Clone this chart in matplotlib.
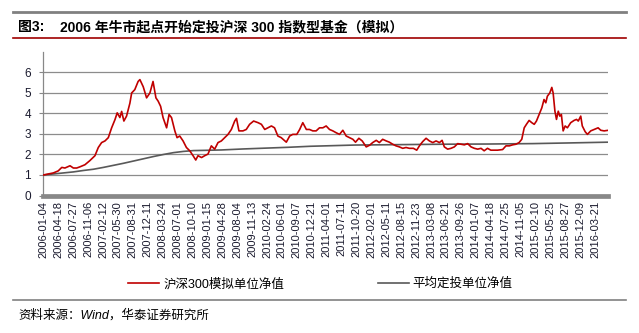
import matplotlib
matplotlib.use('Agg')
import matplotlib.pyplot as plt
from matplotlib.lines import Line2D

plt.rcParams['font.family'] = ['Liberation Sans', 'Noto Sans CJK SC']

# trading-day index (0 = 2006-01-04) and values
hs300_day = [0, 22, 45, 67, 83, 97, 120, 135, 150, 165, 187, 209, 232, 247, 262, 277, 292,
             307, 322, 332, 344, 352, 362, 374, 389, 397, 411, 426, 434, 449, 464, 479, 493,
             506, 516, 527, 538, 554, 565, 576, 591, 601, 613, 628, 643, 658, 673, 685, 695,
             711, 725, 740, 755, 770, 785, 800, 815, 830, 845, 860, 868, 879, 897, 912, 927,
             945, 965, 980, 995, 1009, 1025, 1039, 1054, 1069, 1092, 1107, 1121, 1139, 1152,
             1166, 1182, 1196, 1211, 1226, 1241, 1256, 1271, 1286, 1301, 1316, 1331, 1346,
             1361, 1376, 1391, 1403, 1418, 1433, 1451, 1466, 1480, 1496, 1510, 1525, 1541,
             1555, 1570, 1585, 1600, 1615, 1630, 1645, 1663, 1678, 1690, 1705, 1720, 1735,
             1750, 1765, 1780, 1792, 1802, 1817, 1832, 1847, 1862, 1877, 1892, 1907, 1922,
             1937, 1952, 1967, 1981, 1996, 2011, 2026, 2041, 2064, 2079, 2094, 2109, 2124,
             2138, 2150, 2161, 2171, 2183, 2195, 2206, 2216, 2228, 2240, 2250, 2258, 2265,
             2276, 2285, 2291, 2299, 2306, 2314, 2321, 2328, 2336, 2345, 2355, 2370, 2385,
             2396, 2404, 2415, 2422, 2435, 2445, 2460, 2475, 2493, 2505, 2520, 2539]
hs300_nav = [1.0, 1.05, 1.1, 1.2, 1.37, 1.34, 1.45, 1.34, 1.34, 1.4, 1.5, 1.7, 1.94, 2.34,
             2.58, 2.66, 2.82, 3.3, 3.7, 4.03, 3.8, 4.1, 3.63, 3.87, 4.5, 5.0, 5.16, 5.56,
             5.65, 5.3, 4.76, 5.0, 5.56, 4.76, 4.6, 4.35, 3.8, 3.3, 3.95, 3.8, 3.15, 2.82,
             2.9, 2.66, 2.34, 2.18, 1.94, 1.73, 1.94, 1.85, 1.94, 2.02, 2.42, 2.26, 2.58,
             2.66, 2.82, 2.98, 3.22, 3.63, 3.76, 3.15, 3.15, 3.22, 3.47, 3.63, 3.55, 3.47,
             3.22, 3.3, 3.39, 3.3, 2.9, 2.82, 2.6, 2.9, 2.98, 2.98, 3.22, 3.55, 3.22, 3.22,
             3.15, 3.15, 3.3, 3.3, 3.39, 3.22, 3.15, 3.06, 2.98, 3.18, 2.9, 2.82, 2.74, 2.6,
             2.79, 2.66, 2.37, 2.45, 2.58, 2.69, 2.58, 2.74, 2.66, 2.6, 2.5, 2.42, 2.37, 2.3,
             2.34, 2.3, 2.3, 2.21, 2.42, 2.63, 2.79, 2.66, 2.58, 2.66, 2.58, 2.69, 2.37, 2.26,
             2.3, 2.37, 2.53, 2.5, 2.47, 2.53, 2.37, 2.3, 2.26, 2.3, 2.18, 2.3, 2.21, 2.21,
             2.21, 2.24, 2.42, 2.42, 2.47, 2.5, 2.58, 2.74, 3.3, 3.47, 3.66, 3.55, 3.47, 3.63,
             3.95, 4.27, 4.68, 4.52, 4.84, 5.0, 5.27, 5.0, 4.11, 3.71, 4.11, 3.87, 3.95, 3.15,
             3.39, 3.3, 3.55, 3.66, 3.71, 3.63, 3.87, 3.39, 3.11, 2.98, 3.15, 3.22, 3.3, 3.18,
             3.15, 3.18]

dca_day = [0, 45, 90, 135, 180, 225, 270, 315, 360, 405, 450, 495, 540, 585, 630, 675, 720,
           800, 900, 1000, 1100, 1200, 1300, 1400, 1500, 1600, 1800, 2000, 2200, 2350, 2539]
dca_nav = [1.0, 1.05, 1.1, 1.15, 1.22, 1.28, 1.37, 1.47, 1.57, 1.68, 1.79, 1.9, 2.0, 2.09,
           2.15, 2.19, 2.2, 2.22, 2.27, 2.31, 2.35, 2.4, 2.43, 2.46, 2.47, 2.48, 2.5, 2.51,
           2.53, 2.56, 2.6]

tick_labels = ['2006-01-04', '2006-04-18', '2006-07-27', '2006-11-06', '2007-02-12',
               '2007-05-30', '2007-08-31', '2007-12-11', '2008-03-24', '2008-07-01',
               '2008-10-10', '2009-01-15', '2009-04-28', '2009-08-04', '2009-11-13',
               '2010-02-24', '2010-06-01', '2010-09-07', '2010-12-21', '2011-04-01',
               '2011-07-11', '2011-10-20', '2012-02-01', '2012-05-11', '2012-08-15',
               '2012-11-23', '2013-03-08', '2013-06-21', '2013-09-26', '2014-01-07',
               '2014-04-18', '2014-07-25', '2014-11-05', '2015-02-10', '2015-05-25',
               '2015-08-27', '2015-12-09', '2016-03-21']
tick_step = 67

fig = plt.figure(figsize=(6.39, 3.33), dpi=100)
ax = fig.add_axes([0.0678, 0.4129, 0.8842, 0.4312])

ax.plot(hs300_day, hs300_nav, color='#C00000', lw=1.2, label='沪深300模拟单位净值', zorder=3)
ax.plot(dca_day, dca_nav, color='#595959', lw=1.2, label='平均定投单位净值', zorder=2)

ax.set_xlim(0, 2539)
ax.set_ylim(0, 7)
ax.set_yticks(range(0, 7))
ax.set_xticks([i * tick_step for i in range(len(tick_labels))])
ax.set_xticklabels(tick_labels, rotation=90, fontsize=8, color='#1a1a2e')
ax.tick_params(axis='x', length=0, pad=4)
ax.tick_params(axis='y', length=3, color='#888888', labelsize=8.5, labelcolor='#1a1a2e', pad=6)
ax.grid(axis='y', color='#8c8c8c', lw=0.9)
ax.set_axisbelow(True)
for s in ['top', 'right', 'bottom']:
    ax.spines[s].set_visible(False)
ax.spines['left'].set_color('#888888')
ax.spines['left'].set_linewidth(0.9)
ax.axhline(0, color='#888888', lw=3.4, zorder=4, clip_on=False)

fig.legend(loc='center', bbox_to_anchor=(0.5016, 0.147), ncol=2, frameon=False,
           fontsize=9, handlelength=2.5, handletextpad=0.3, columnspacing=7.5,
           borderpad=0, borderaxespad=0)

# header / footer decoration
fig.add_artist(Line2D([0.02, 0.98], [0.964, 0.964], color='#808080', lw=2))
fig.add_artist(Line2D([0.02, 0.98], [0.886, 0.886], color='#A00000', lw=1.2))
fig.add_artist(Line2D([0.02, 0.98], [0.099, 0.099], color='#808080', lw=1.2))
fig.text(18 / 639, 0.919, '图3:', fontsize=10, fontweight='bold', va='center')
fig.text(60 / 639, 0.919, '2006 年牛市起点开始定投沪深 300 指数型基金（模拟）',
         fontsize=10, fontweight='bold', va='center')
fig.text(18 / 639, 0.054, '资料来源：Wind，华泰证券研究所', fontsize=9, style='italic',
         va='center')

fig.savefig('out.png', dpi=100)
